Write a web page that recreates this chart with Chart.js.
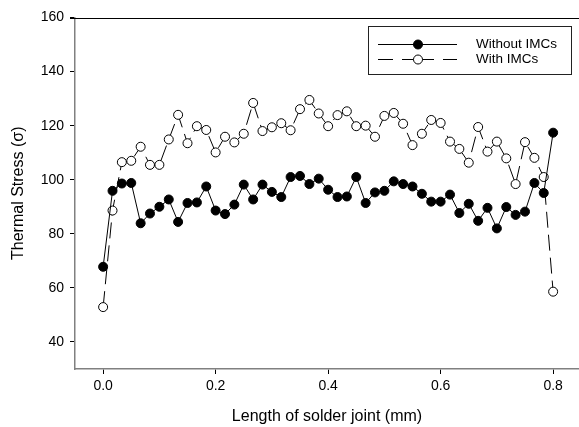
<!DOCTYPE html>
<html>
<head>
<meta charset="utf-8">
<script src="https://cdn.jsdelivr.net/npm/chart.js@4/dist/chart.umd.min.js"></script>
<style>
html,body{margin:0;padding:0;background:#fff;}
#wrap{width:579px;height:427px;position:relative;}
</style>
</head>
<body>
<div id="wrap"><canvas id="c" width="579" height="427"></canvas></div>
<script>
const lengthMm = [0.0000,0.0167,0.0333,0.0500,0.0667,0.0833,0.1000,0.1167,0.1333,0.1500,0.1667,0.1833,0.2000,0.2167,0.2333,0.2500,0.2667,0.2833,0.3000,0.3167,0.3333,0.3500,0.3667,0.3833,0.4000,0.4167,0.4333,0.4500,0.4667,0.4833,0.5000,0.5167,0.5333,0.5500,0.5667,0.5833,0.6000,0.6167,0.6333,0.6500,0.6667,0.6833,0.7000,0.7167,0.7333,0.7500,0.7667,0.7833,0.8000];
const withoutIMCs = [67.8,95.9,98.6,98.8,83.9,87.5,90.0,92.7,84.4,91.4,91.6,97.5,88.6,87.3,90.8,98.2,92.7,98.2,95.5,93.6,101.0,101.4,98.4,100.4,96.3,93.6,93.8,101.0,91.4,95.3,95.9,99.4,98.4,97.5,94.8,91.9,91.9,94.5,87.7,91.1,84.8,89.6,82.0,89.9,87.0,88.2,98.8,95.1,117.4];
const withIMCs = [52.9,88.6,106.5,107.0,112.2,105.5,105.5,114.9,124.0,113.5,119.8,118.4,110.1,115.9,113.8,117.0,128.4,118.0,119.4,120.9,118.3,126.1,129.5,124.5,119.8,123.9,125.3,119.8,120.0,115.9,123.6,124.7,120.7,112.8,117.0,122.1,121.0,114.1,111.4,106.3,119.5,110.4,114.1,107.9,98.4,113.9,108.1,101.0,58.6];
const xTicks = [0.0,0.2,0.4,0.6,0.8];
const yTicks = [40,60,80,100,120,140,160];
const seriesNames = ["Without IMCs","With IMCs"];

const FONT = "'Liberation Sans', Arial, sans-serif";

const legendPlugin = {
  id: 'customLegend',
  afterDraw(chart) {
    const ctx = chart.ctx;
    const a = chart.chartArea;
    ctx.save();
    ctx.strokeStyle = '#000';
    ctx.lineWidth = 1;
    ctx.beginPath();
    ctx.moveTo(a.left - 5, Math.round(a.top) + 0.5);
    ctx.lineTo(a.right, Math.round(a.top) + 0.5);
    ctx.stroke();
    const bx = 368.5, by = 26.5, bw = 203, bh = 48;
    ctx.strokeStyle = '#222';
    ctx.strokeRect(bx, by, bw, bh);
    const r1 = 44.5, r2 = 59.5;
    ctx.strokeStyle = '#000';
    ctx.lineWidth = 1;
    ctx.beginPath(); ctx.moveTo(378, r1); ctx.lineTo(457, r1); ctx.stroke();
    const segs = [[378,393],[402,414],[422,434],[443,457]];
    segs.forEach(s => { ctx.beginPath(); ctx.moveTo(s[0], r2); ctx.lineTo(s[1], r2); ctx.stroke(); });
    ctx.beginPath(); ctx.arc(418, r1, 4.5, 0, Math.PI*2); ctx.fillStyle='#000'; ctx.fill(); ctx.stroke();
    ctx.beginPath(); ctx.arc(418, r2, 4.5, 0, Math.PI*2); ctx.fillStyle='#fff'; ctx.fill(); ctx.stroke();
    ctx.fillStyle = '#000';
    ctx.font = '13.5px ' + FONT;
    ctx.textBaseline = 'middle';
    ctx.textAlign = 'left';
    ctx.fillText(seriesNames[0], 476, r1);
    ctx.fillText(seriesNames[1], 476, r2);
    ctx.restore();
  }
};

new Chart(document.getElementById('c'), {
  type: 'scatter',
  data: {
    datasets: [
      {
        label: seriesNames[0],
        data: lengthMm.map((x,i)=>({x:x, y:withoutIMCs[i]})),
        showLine: true,
        borderColor: '#000',
        borderWidth: 1,
        backgroundColor: '#000',
        pointBackgroundColor: '#000',
        pointBorderColor: '#000',
        pointBorderWidth: 1,
        pointRadius: 4.5,
        tension: 0
      },
      {
        label: seriesNames[1],
        data: lengthMm.map((x,i)=>({x:x, y:withIMCs[i]})),
        showLine: true,
        borderColor: '#000',
        borderWidth: 1,
        borderDash: [16,7],
        backgroundColor: '#fff',
        pointBackgroundColor: '#fff',
        pointBorderColor: '#000',
        pointBorderWidth: 1,
        pointRadius: 4.5,
        tension: 0
      }
    ]
  },
  options: {
    responsive: false,
    animation: false,
    devicePixelRatio: 1,
    layout: { autoPadding: false, padding: { left: 0, top: 17.5, right: 0, bottom: 0 } },
    plugins: { legend: { display: false }, tooltip: { enabled: false } },
    scales: {
      x: {
        type: 'linear',
        min: -0.05,
        max: 0.846,
        afterBuildTicks: (s) => { s.ticks = xTicks.map(v => ({value: v})); },
        afterFit: (s) => { s.height = 58; },
        grid: { drawOnChartArea: false, tickLength: 5, color: '#000', tickWidth: 1 },
        border: { color: '#808080', width: 1.5 },
        ticks: { color: '#000', font: { family: FONT, size: 14 }, padding: 4, callback: v => v.toFixed(1), maxRotation: 0 },
        title: { display: true, text: 'Length of solder joint (mm)', color: '#000', font: { family: FONT, size: 16 }, padding: { top: 0, bottom: 1 } }
      },
      y: {
        type: 'linear',
        min: 30,
        max: 160,
        afterBuildTicks: (s) => { s.ticks = yTicks.map(v => ({value: v})); },
        afterFit: (s) => { s.width = 75; },
        grid: { drawOnChartArea: false, tickLength: 5, color: '#000', tickWidth: 1 },
        border: { color: '#808080', width: 1.5 },
        ticks: { color: '#000', font: { family: FONT, size: 14 }, padding: 6 },
        title: { display: true, text: 'Thermal Stress (σ)', color: '#000', font: { family: FONT, size: 16 }, padding: { top: 9, bottom: 0 } }
      }
    }
  },
  plugins: [legendPlugin]
});
</script>
</body>
</html>
